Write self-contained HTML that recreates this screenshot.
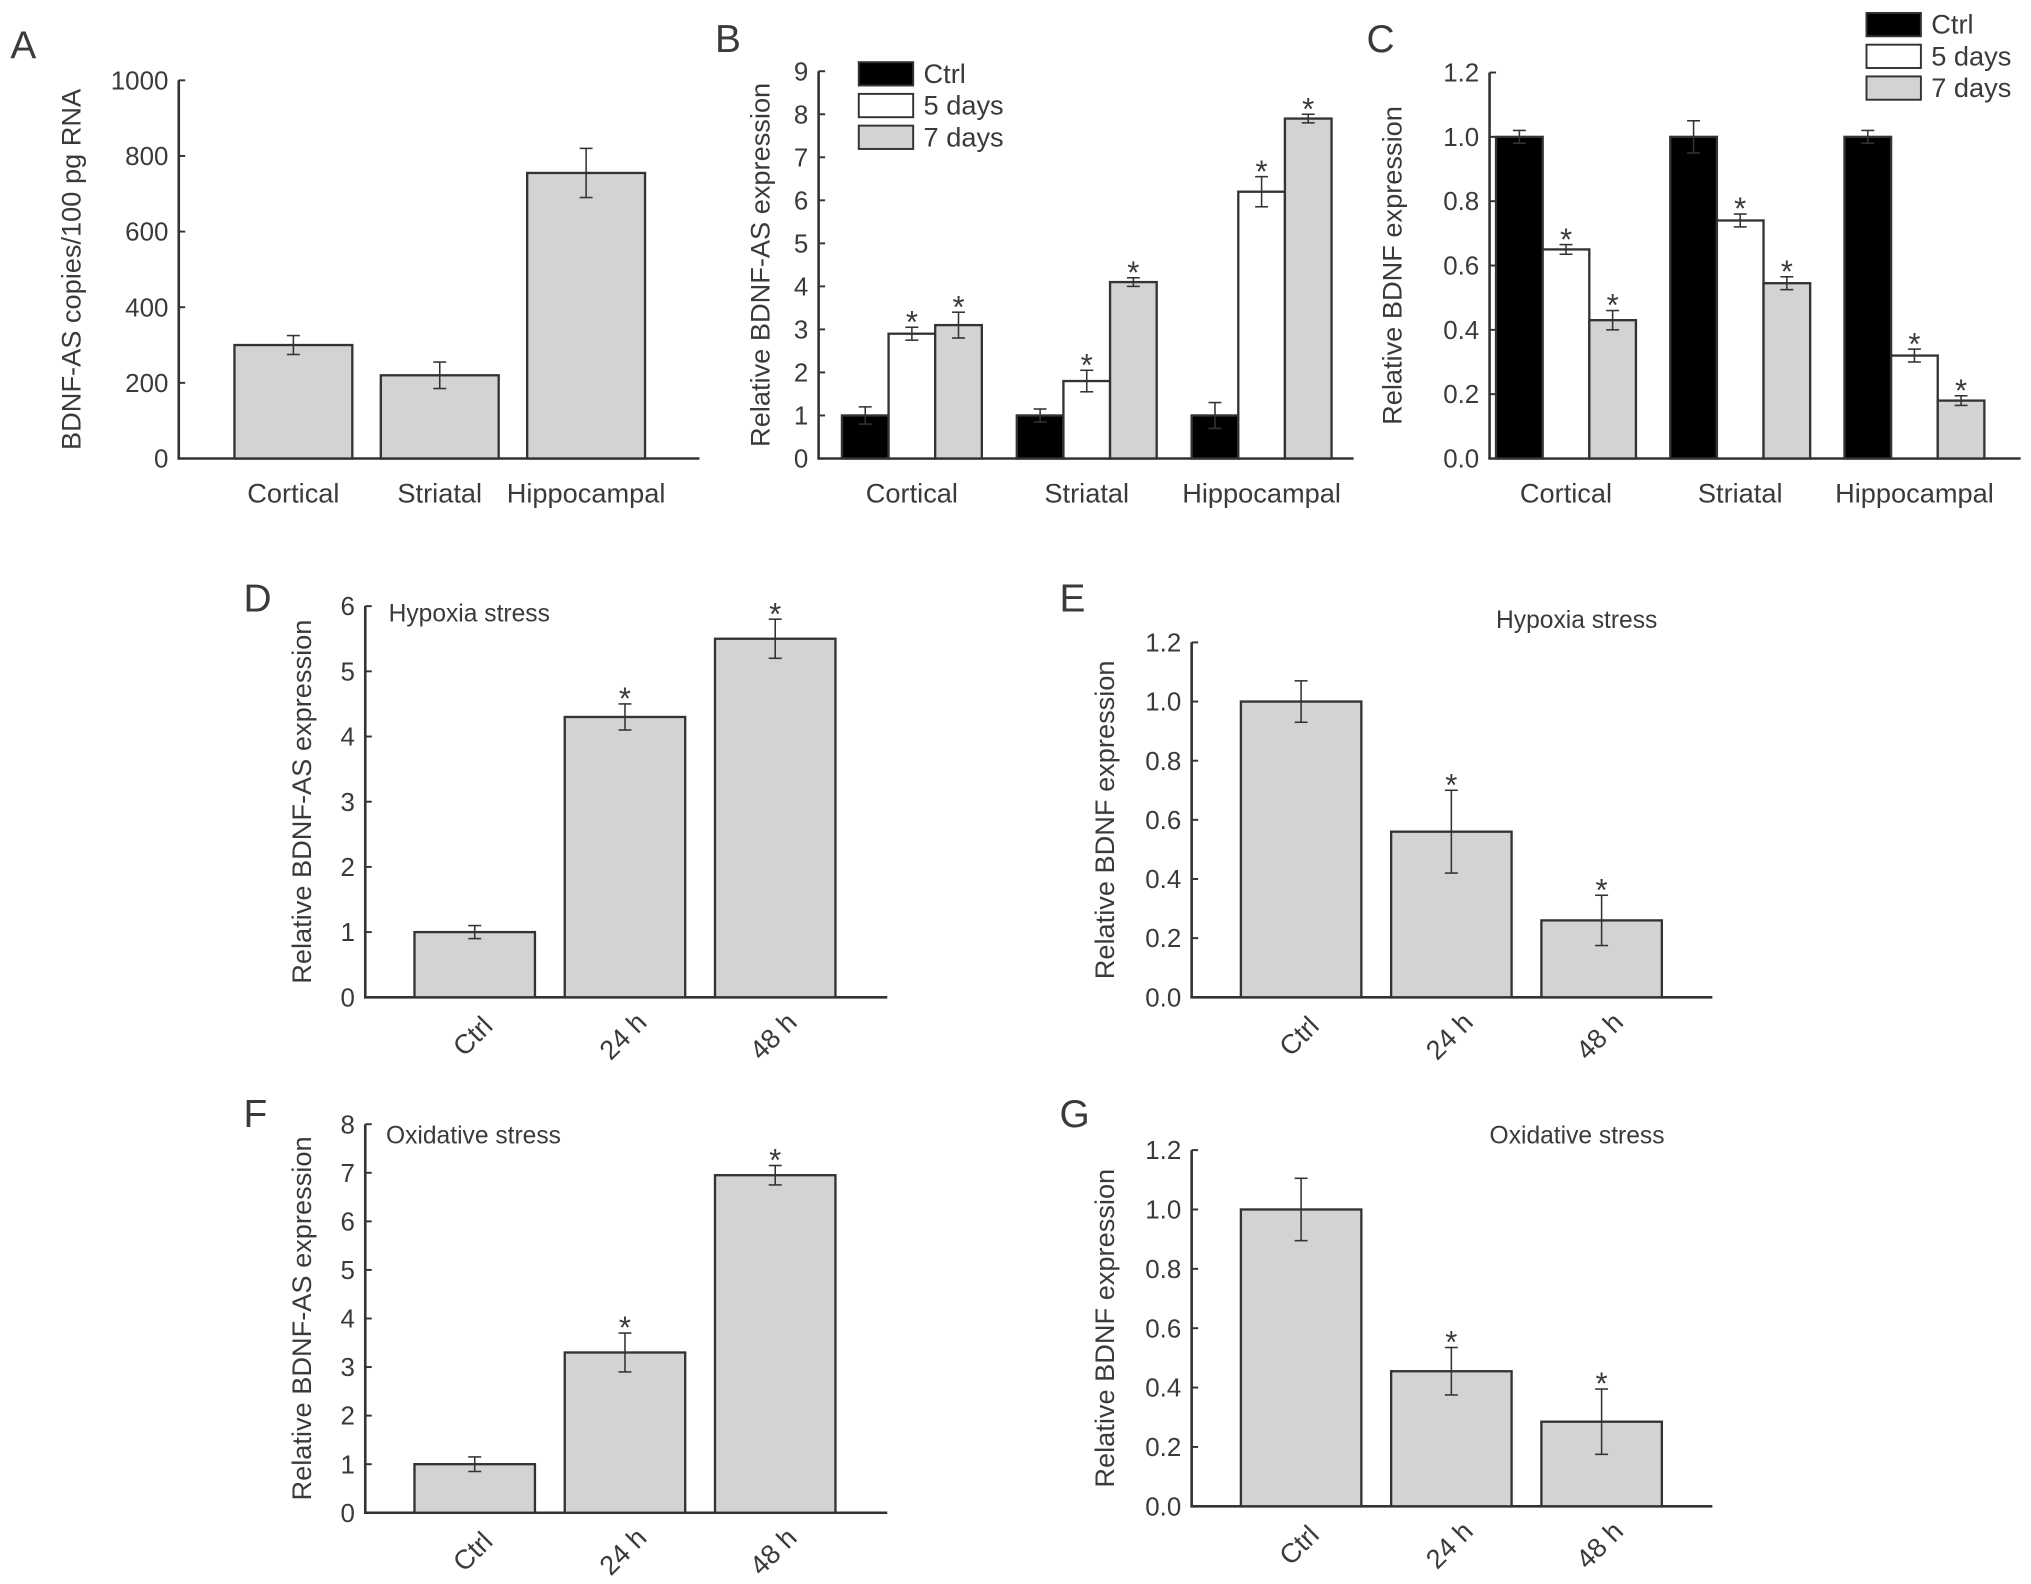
<!DOCTYPE html>
<html><head><meta charset="utf-8"><style>
html,body{margin:0;padding:0;background:#fff;}
svg{display:block;}
text{font-family:"Liberation Sans",sans-serif;fill:#3a3a3a;}
</style></head><body>
<svg id="fig" width="2031" height="1584" viewBox="0 0 1568 1223" preserveAspectRatio="none" xmlns="http://www.w3.org/2000/svg"></svg>
<script>
// Panel A
const aCats = ["Cortical","Striatal","Hippocampal"];
const aVals = [300,220,755];
const aErr = [25,35,65];
const aTicks = [0,200,400,600,800,1000];
// Panel B
const bCats = ["Cortical","Striatal","Hippocampal"];
const bSeries = ["Ctrl","5 days","7 days"];
const bCtrl = [1,1,1];
const b5d = [2.9,1.8,6.2];
const b7d = [3.1,4.1,7.9];
const bCtrlErr = [0.2,0.15,0.3];
const b5dErr = [0.15,0.25,0.35];
const b7dErr = [0.3,0.1,0.1];
const bTicks = [0,1,2,3,4,5,6,7,8,9];
// Panel C
const cCtrl = [1,1,1];
const c5d = [0.65,0.74,0.32];
const c7d = [0.43,0.545,0.18];
const cCtrlErr = [0.02,0.05,0.02];
const c5dErr = [0.015,0.02,0.02];
const c7dErr = [0.03,0.02,0.015];
const cTicks = ["0.0","0.2","0.4","0.6","0.8","1.0","1.2"];
// Panels D-G
const tCats = ["Ctrl","24 h","48 h"];
const dVals = [1,4.3,5.5];
const dErr = [0.1,0.2,0.3];
const dTicks = [0,1,2,3,4,5,6];
const eVals = [1,0.56,0.26];
const eErr = [0.07,0.14,0.085];
const fVals = [1,3.3,6.95];
const fErr = [0.15,0.4,0.2];
const fTicks = [0,1,2,3,4,5,6,7,8];
const gVals = [1,0.455,0.285];
const gErr = [0.105,0.08,0.11];
const egTicks = ["0.0","0.2","0.4","0.6","0.8","1.0","1.2"];
const bStars = [false,true,true];

const NS="http://www.w3.org/2000/svg";
const svg=document.getElementById('fig');
function el(tag,attrs,parent){const e=document.createElementNS(NS,tag);for(const k in attrs)e.setAttribute(k,attrs[k]);(parent||svg).appendChild(e);return e;}
function txt(s,attrs,parent){const t=el('text',attrs,parent);t.textContent=s;return t;}

function axis(p){
  // p: x0,x1,y0,yTop,max,ticks,label,labelX,name
  const g=el('g',{});
  
  
  const sy=v=>p.y0-(v/p.max)*(p.y0-p.yTop);
  const ya=el('line',{x1:p.x0,y1:p.yTop,x2:p.x0,y2:p.y0,stroke:'#333','stroke-width':2},g);
  
  const xa=el('line',{x1:p.x0-1,y1:p.y0,x2:p.x1,y2:p.y0,stroke:'#333','stroke-width':2},g);
  
  p.ticks.forEach(t=>{
    const v=parseFloat(t);const y=sy(v);
    el('line',{x1:p.x0,y1:y,x2:p.x0+5,y2:y,stroke:'#333','stroke-width':1.5},g);
    const tl=txt(String(t),{x:p.x0-8,y:y+7,'font-size':20,'text-anchor':'end'},g);
    
  });
  const lt=txt(p.label,{x:p.labelX,y:(p.y0+p.yTop)/2,'font-size':21,'text-anchor':'middle',transform:`rotate(-90 ${p.labelX} ${(p.y0+p.yTop)/2})`},g);
  
  return sy;
}
function bar(sy,x,w,v,e,fill,star,y0){
  const g=el('g',{});
  
  
  el('rect',{x:x,y:sy(v),width:w,height:y0-sy(v),fill:fill,stroke:'#333','stroke-width':1.8},g);
  const cx=x+w/2,yt=sy(v+e),yb=sy(v-e);
  el('line',{x1:cx,y1:yt,x2:cx,y2:yb,stroke:'#333','stroke-width':1.2},g);
  el('line',{x1:cx-5,y1:yt,x2:cx+5,y2:yt,stroke:'#333','stroke-width':1.2},g);
  el('line',{x1:cx-5,y1:yb,x2:cx+5,y2:yb,stroke:'#333','stroke-width':1.2},g);
  if(star){const s=txt('*',{x:cx,y:yt+4,'font-size':24,'text-anchor':'middle'},g);}
}
function panelLetter(s,x,y){const t=txt(s,{x:x,y:y,'font-size':30},svg);}

// A
panelLetter('A',8,45);
let sy=axis({x0:138,x1:540,y0:354,yTop:62,max:1000,ticks:aTicks,label:'BDNF-AS copies/100 pg RNA',labelX:62,name:'panel-a-axes'});
aCats.forEach((c,i)=>{const x=181+i*113;bar(sy,x,91,aVals[i],aErr[i],'#d3d3d3',false,354);
  const t=txt(c,{x:x+45.5,y:388,'font-size':21,'text-anchor':'middle'});});

// B & C
const fills=['#000','#fff','#d3d3d3'];
function grouped(cfg){
  const s=axis(cfg);
  const vals=[cfg.v0,cfg.v1,cfg.v2],errs=[cfg.e0,cfg.e1,cfg.e2];
  bCats.forEach((c,i)=>{const gx=cfg.g0+i*cfg.gs;
    for(let k=0;k<3;k++)bar(s,gx+k*36,36,vals[k][i],errs[k][i],fills[k],bStars[k],cfg.y0);
    const t=txt(c,{x:gx+54,y:388,'font-size':21,'text-anchor':'middle'});});
  bSeries.forEach((n,k)=>{const g=el('g',{});
    el('rect',{x:cfg.lx,y:cfg.ly+k*24.5,width:42,height:18,fill:fills[k],stroke:'#333','stroke-width':1.5},g);
    txt(n,{x:cfg.lx+50,y:cfg.ly+k*24.5+16,'font-size':21},g);});
}
panelLetter('B',552,40);
grouped({x0:632,x1:1045,y0:354,yTop:55,max:9,ticks:bTicks,label:'Relative BDNF-AS expression',labelX:594,name:'panel-b-axes',
  v0:bCtrl,v1:b5d,v2:b7d,e0:bCtrlErr,e1:b5dErr,e2:b7dErr,g0:650,gs:135,lx:663,ly:48});
panelLetter('C',1055,40);
grouped({x0:1150,x1:1560,y0:354,yTop:56,max:1.2,ticks:cTicks,label:'Relative BDNF expression',labelX:1082,name:'panel-c-axes',
  v0:cCtrl,v1:c5d,v2:c7d,e0:cCtrlErr,e1:c5dErr,e2:c7dErr,g0:1155,gs:134.5,lx:1441,ly:10});

// D-G
function simple(cfg){
  panelLetter(cfg.letter,cfg.lx,cfg.ly);
  const s=axis(cfg);
  tCats.forEach((c,i)=>{const x=cfg.x0+38+i*116;bar(s,x,93,cfg.vals[i],cfg.errs[i],'#d3d3d3',i>0,cfg.y0);
    const cx=x+50,cy=cfg.y0+35;
    const t=txt(c,{x:cx,y:cy,'font-size':21,'text-anchor':'middle',transform:`rotate(-45 ${cx} ${cy})`});});
  const n=txt(cfg.note,{x:cfg.nx,y:cfg.ny,'font-size':19});
}
simple({letter:'D',lx:188,ly:472,x0:282,x1:685,y0:770,yTop:468,max:6,ticks:dTicks,label:'Relative BDNF-AS expression',labelX:240,name:'panel-d-axes',vals:dVals,errs:dErr,note:'Hypoxia stress',nx:300,ny:480});
simple({letter:'E',lx:818,ly:472,x0:920,x1:1322,y0:770,yTop:496,max:1.2,ticks:egTicks,label:'Relative BDNF expression',labelX:860,name:'panel-e-axes',vals:eVals,errs:eErr,note:'Hypoxia stress',nx:1155,ny:485});
simple({letter:'F',lx:188,ly:870,x0:282,x1:685,y0:1168,yTop:868,max:8,ticks:fTicks,label:'Relative BDNF-AS expression',labelX:240,name:'panel-f-axes',vals:fVals,errs:fErr,note:'Oxidative stress',nx:298,ny:883});
simple({letter:'G',lx:818,ly:870,x0:920,x1:1322,y0:1163,yTop:888,max:1.2,ticks:egTicks,label:'Relative BDNF expression',labelX:860,name:'panel-g-axes',vals:gVals,errs:gErr,note:'Oxidative stress',nx:1150,ny:883});
</script>
</body></html>
